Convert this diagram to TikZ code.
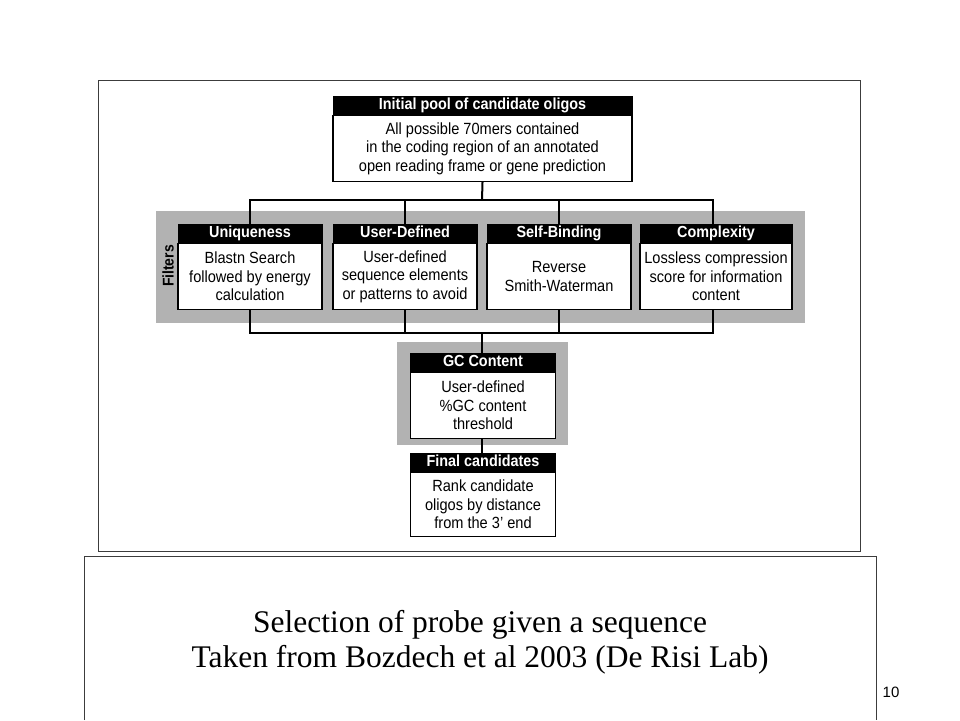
\documentclass[tikz,border=0pt]{standalone}
\usepackage{fontspec}
\setmainfont{Liberation Serif}
\setsansfont{Liberation Sans}
\newfontfamily\condsans[FakeStretch=0.9]{Liberation Sans}
\definecolor{bandgray}{RGB}{178,178,178}
\definecolor{framegray}{RGB}{60,60,60}
\begin{document}
\begin{tikzpicture}[x=1pt,y=-1pt,
  hdr/.style={fill=black,draw=black,line width=1pt,text=white,inner sep=0pt,minimum height=18pt,
    text height=11.5pt,text depth=3pt,
    font=\condsans\bfseries\fontsize{16}{17}\selectfont,anchor=north},
  bodybox/.style={fill=white,draw=black,line width=1.2pt,inner sep=0pt,align=center,anchor=north,
    font=\condsans\fontsize{16.2}{18.5}\selectfont},
  conn/.style={draw=black,line width=2pt},
  band/.style={fill=bandgray,draw=none},
  frame/.style={draw=framegray,line width=0.9pt}]
\useasboundingbox (0,0) rectangle (960,720);
\fill[white] (0,0) rectangle (960,720);
% frames
\draw[frame] (98,80) rectangle (860,551);
\draw[frame] (84,720) -- (84,556) -- (876,556) -- (876,720);
% gray bands
\fill[band] (156,211) rectangle (805,323);
\fill[band] (397,342) rectangle (568,445);
% junction points
\coordinate (jt) at (482,200);
\coordinate (jb) at (482,333);
% top box
\node[hdr,minimum width=299pt] (th) at (482.5,96) {Initial pool of candidate oligos};
\node[bodybox,minimum width=299pt,minimum height=66pt] (tb) at (th.south) {All possible 70mers contained\\ in the coding region of an annotated\\ open reading frame or gene prediction};
% filter boxes
\node[hdr,minimum width=144pt] (uh) at (250,224) {Uniqueness};
\node[bodybox,minimum width=144pt,minimum height=66pt] (ub) at (uh.south) {Blastn Search\\ followed by energy\\ calculation};
\node[hdr,minimum width=144pt] (dh) at (405,224) {User-Defined};
\node[bodybox,minimum width=144pt,minimum height=66pt] (db) at (dh.south) {User-defined\\ sequence elements\\ or patterns to avoid};
\node[hdr,minimum width=144pt] (sh) at (559,224) {Self-Binding};
\node[bodybox,minimum width=144pt,minimum height=66pt] (sb) at (sh.south) {Reverse\\ Smith-Waterman};
\node[hdr,minimum width=152pt] (ch) at (716,224) {Complexity};
\node[bodybox,minimum width=152pt,minimum height=66pt] (cb) at (ch.south) {Lossless compression\\ score for information\\ content};
\node[rotate=90,font=\condsans\bfseries\fontsize{15.5}{17}\selectfont] (filt) at (168,266) {Filters};
% GC content
\node[hdr,minimum width=145pt] (gh) at (483,353) {GC Content};
\node[bodybox,minimum width=145pt,minimum height=66pt] (gb) at (gh.south) {User-defined\\ \%GC content\\ threshold};
% final
\node[hdr,minimum width=145pt] (fh) at (483,453) {Final candidates};
\node[bodybox,minimum width=145pt,minimum height=64pt] (fb) at (fh.south) {Rank candidate\\ oligos by distance\\ from the 3’ end};
% connectors
\draw[conn] (tb.south) -- (jt);
\draw[conn] (uh.north) |- (jt);
\draw[conn] (dh.north) |- (jt);
\draw[conn] (sh.north) |- (jt);
\draw[conn] ([xshift=-3pt]ch.north) |- (jt);
\draw[conn] (ub.south) |- (jb);
\draw[conn] (db.south) |- (jb);
\draw[conn] (sb.south) |- (jb);
\draw[conn] ([xshift=-3pt]cb.south) |- (jb);
\draw[conn] (jb) -- (jb |- gh.north);
\draw[conn] (gb.south -| jb) -- (fh.north -| jb);
% caption
\node[font=\fontsize{31.5}{35}\selectfont,align=center] (cap) at (480,642) {Selection of probe given a sequence\\ Taken from Bozdech et al 2003 (De Risi Lab)};
\node[font=\sffamily\fontsize{15}{18}\selectfont] (pg) at (891,692) {10};
\end{tikzpicture}
\end{document}
